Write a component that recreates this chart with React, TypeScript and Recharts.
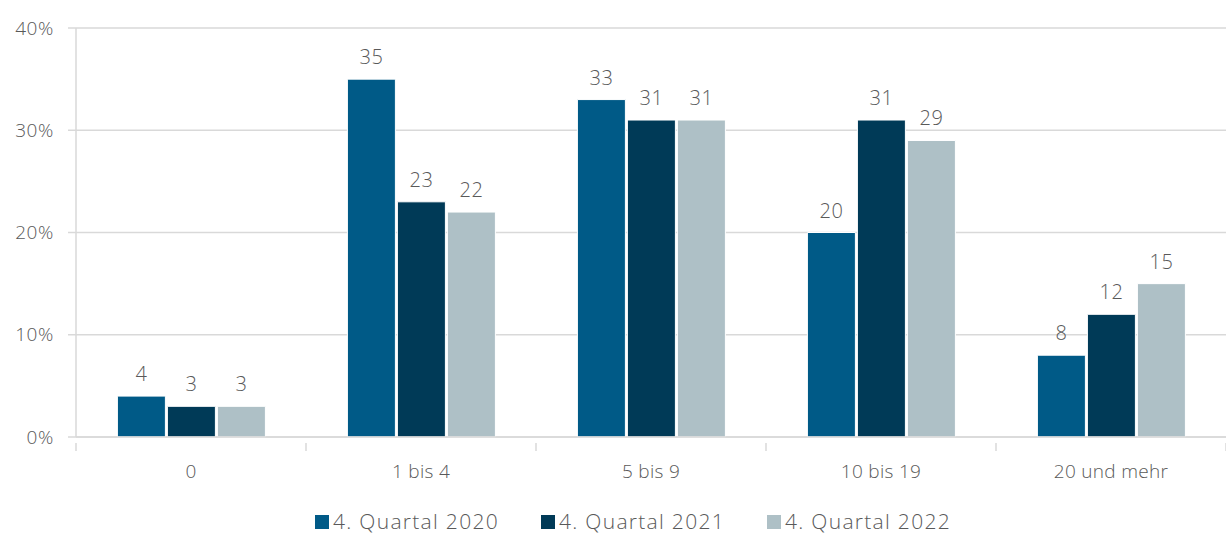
import { BarChart, Bar, CartesianGrid, XAxis, YAxis, Legend, LabelList } from 'recharts';

const categories = ['0', '1 bis 4', '5 bis 9', '10 bis 19', '20 und mehr'];
const q2020 = [4, 35, 33, 20, 8];
const q2021 = [3, 23, 31, 31, 12];
const q2022 = [3, 22, 31, 29, 15];
const yTicks = [0, 10, 20, 30, 40];

const data = categories.map((cat, i) => ({
  cat,
  q2020: q2020[i],
  q2021: q2021[i],
  q2022: q2022[i],
}));

const font = '"Open Sans", sans-serif';
const textColor = '#595959';
const gridColor = '#d9d9d9';

const CatTick = (props: any) => {
  const { x, y, payload, index, visibleTicksCount } = props;
  const half = payload.offset ?? 115;
  const top = y - 26;
  return (
    <g>
      <line x1={x - half} x2={x - half} y1={top} y2={top + 8} stroke={gridColor} strokeWidth={1.5} />
      {index === visibleTicksCount - 1 && (
        <line x1={x + half} x2={x + half} y1={top} y2={top + 8} stroke={gridColor} strokeWidth={1.5} />
      )}
      <text x={x} y={y} dy={9} textAnchor="middle" fill={textColor} fontSize={19} fontFamily={font} fontWeight={300} letterSpacing={0.3}>
        {payload.value}
      </text>
    </g>
  );
};

const LegendContent = (props: any) => {
  const { payload } = props;
  return (
    <div style={{ display: 'flex', justifyContent: 'center', gap: 42, paddingTop: 7, paddingLeft: 40, fontFamily: font, fontSize: 21, lineHeight: '22px', fontWeight: 300, color: textColor, letterSpacing: 1.3 }}>
      {(payload || []).map((p: any) => (
        <div key={p.value} style={{ display: 'flex', alignItems: 'center', height: 22 }}>
          <span style={{ display: 'inline-block', width: 14, height: 14, background: p.color, marginRight: 4, marginTop: 2 }} />
          <span>{p.value}</span>
        </div>
      ))}
    </div>
  );
};

const labelProps = { position: 'top' as const, offset: 15, fill: textColor, fontSize: 20, fontFamily: font, fontWeight: 300, letterSpacing: 0.5 };

export default function App() {
  return (
    <div style={{ position: 'absolute', left: 0, top: 0, width: 1226, height: 533, background: '#fff' }}>
      <BarChart
        width={1226}
        height={533}
        data={data}
        margin={{ top: 28, right: 0, left: 0, bottom: 0 }}
        barCategoryGap="18%"
        barGap={2}
      >
        <CartesianGrid vertical={false} stroke={gridColor} strokeWidth={1.5} />
        <XAxis
          dataKey="cat"
          height={66}
          tickLine={false}
          axisLine={{ stroke: gridColor, strokeWidth: 1.5 }}
          tick={<CatTick />}
          tickMargin={26}
          interval={0}
        />
        <YAxis
          width={76}
          domain={[0, 40]}
          ticks={yTicks}
          tickFormatter={(v: number) => `${v}%`}
          tickSize={8}
          tickMargin={14}
          tickLine={{ stroke: gridColor, strokeWidth: 1.5 }}
          axisLine={{ stroke: gridColor, strokeWidth: 1.5 }}
          tick={{ fill: textColor, fontSize: 19, fontFamily: font, fontWeight: 300, letterSpacing: 0.6 }}
        />
        <Legend verticalAlign="bottom" height={30} content={<LegendContent />} wrapperStyle={{ bottom: 0, height: 30 }} />
        <Bar dataKey="q2020" name="4. Quartal 2020" fill="#005a87" stroke="#fff" strokeWidth={1} isAnimationActive={false}>
          <LabelList dataKey="q2020" {...labelProps} />
        </Bar>
        <Bar dataKey="q2021" name="4. Quartal 2021" fill="#003a57" stroke="#fff" strokeWidth={1} isAnimationActive={false}>
          <LabelList dataKey="q2021" {...labelProps} />
        </Bar>
        <Bar dataKey="q2022" name="4. Quartal 2022" fill="#aec0c6" stroke="#fff" strokeWidth={1} isAnimationActive={false}>
          <LabelList dataKey="q2022" {...labelProps} />
        </Bar>
      </BarChart>
    </div>
  );
}
